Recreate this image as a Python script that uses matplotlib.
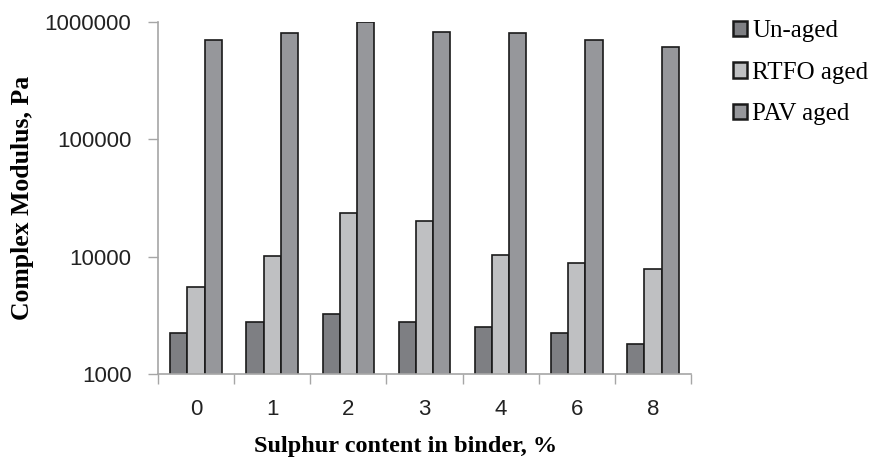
import numpy as np
import matplotlib
matplotlib.use("Agg")
import matplotlib.pyplot as plt
from matplotlib.ticker import FixedLocator, FuncFormatter, NullLocator

# values (Pa)
categories = ["0", "1", "2", "3", "4", "6", "8"]
unaged = [2260, 2790, 3280, 2770, 2530, 2250, 1790]
rtfo = [5540, 10100, 23400, 20100, 10300, 8770, 7840]
pav = [703000, 800000, 1000000, 817000, 811000, 703000, 608000]

series = [("Un-aged", unaged, "#7e7f83"),
          ("RTFO aged", rtfo, "#bfc0c2"),
          ("PAV aged", pav, "#96979b")]

serif = ["Liberation Serif", "DejaVu Serif"]
sans = ["Liberation Sans", "DejaVu Sans"]

fig = plt.figure(figsize=(8.77, 4.59), dpi=100)
ax = fig.add_axes([0.180, 0.185, 0.608, 0.767])
ax.set_yscale("log")

x = np.arange(len(categories))
w = 0.225
for i, (name, vals, col) in enumerate(series):
    ax.bar(x + (i - 1) * w, vals, width=w, color=col, edgecolor="#1a1a1a",
           linewidth=1.2, label=name)

ax.set_ylim(1000, 1000000)
ax.set_xlim(-0.5, len(categories) - 0.5)

ax.yaxis.set_major_locator(FixedLocator([1e3, 1e4, 1e5, 1e6]))
ax.yaxis.set_minor_locator(NullLocator())
ax.yaxis.set_major_formatter(FuncFormatter(lambda v, _: f"{v:.0f}"))

ax.set_xticks(x)
ax.set_xticklabels(categories)
ax.set_xticks(np.arange(len(categories) + 1) - 0.5, minor=True)
ax.tick_params(axis="x", which="major", length=0, pad=18)
ax.tick_params(axis="x", which="minor", length=7, width=1, color="#a6a6a6", direction="out")
ax.tick_params(axis="y", length=7, width=1, color="#a6a6a6", direction="out", pad=12)

for lab in ax.get_xticklabels() + ax.get_yticklabels():
    lab.set_family(sans)
    lab.set_fontsize(16)
    lab.set_color("#222222")

for s in ["top", "right"]:
    ax.spines[s].set_visible(False)
for s in ["left", "bottom"]:
    ax.spines[s].set_color("#a6a6a6")
    ax.spines[s].set_linewidth(1.2)

ax.set_xlabel("Sulphur content in binder, %", family=serif, fontsize=17.5,
              fontweight="bold")
ax.xaxis.set_label_coords(0.465, -0.176)
ax.set_ylabel("Complex Modulus, Pa", family=serif, fontsize=18.5,
              fontweight="bold")
ax.yaxis.set_label_coords(-0.233, 0.5)

leg = fig.legend(loc="upper left", bbox_to_anchor=(0.81, 1.005), frameon=False,
                 prop={"family": serif, "size": 18}, handlelength=0.58,
                 handleheight=0.58, handletextpad=0.2, labelspacing=0.78)
for h in leg.legend_handles:
    h.set_linewidth(1.8)

plt.savefig("out.png", dpi=100)
